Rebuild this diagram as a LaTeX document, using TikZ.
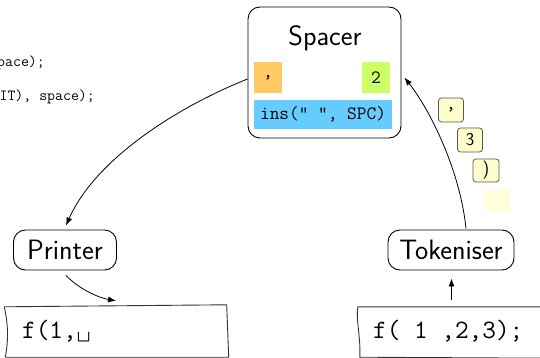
\documentclass[tikz,border=0pt]{standalone}
\usetikzlibrary{arrows.meta}
\definecolor{chorange}{HTML}{FFC966}
\definecolor{chgreen}{HTML}{CCFF66}
\definecolor{chblue}{HTML}{66CCFF}
\definecolor{tokfill}{HTML}{FFFFCC}
\definecolor{tokfaint}{HTML}{FFFFDD}
\definecolor{tokline}{HTML}{555555}
\definecolor{boxline}{HTML}{333333}
\newcommand\bigsans{\sffamily\fontsize{28}{32}\selectfont}
\newcommand\codett{\ttfamily\fontsize{26.5}{30}\selectfont}
\newcommand\midtt{\ttfamily\fontsize{18.8}{22}\selectfont}
\newcommand\smalltt{\ttfamily\fontsize{15.4}{18}\selectfont}
\newcommand\toksans{\sffamily\fontsize{18}{20}\selectfont}
\begin{document}
\begin{tikzpicture}[x=1pt,y=-1pt,
  proc/.style={draw, line width=0.9pt, rounded corners=12pt, inner sep=0pt},
  chip/.style={inner sep=0pt, minimum height=31pt},
  tok/.style={draw=tokline, fill=tokfill, line width=0.8pt, rounded corners=3pt, inner sep=0pt, minimum width=25pt, minimum height=24pt},
  flow/.style={line width=0.8pt, -{Latex[length=8pt,width=6pt]}},
  handbox/.style={draw=boxline, line width=0.9pt, line join=round},
  plain/.style={inner sep=0pt}]
\useasboundingbox (0,0) rectangle (540,358);
\clip (0,0) rectangle (540,358);

% clipped code text at top left
\node[plain, anchor=east] (codeA) at (45,63) {\smalltt space);};
\node[plain, anchor=east] (codeB) at (95,97) {\smalltt IT), space);};

% Spacer
\node[proc, minimum width=153pt, minimum height=131pt] (spacer) at (324.5,72.5) {};
\node[plain] (spacertitle) at (325,38) {\bigsans Spacer};
\node[chip, fill=chorange, minimum width=28pt] (comma) at (268,77.5) {\midtt ,};
\node[chip, fill=chgreen, minimum width=28pt] (two) at (376,77.5) {\midtt 2};
\node[chip, fill=chblue, minimum width=138pt, minimum height=29pt] (ins) at (323,114.5) {\midtt ins(" ", SPC)};

% Printer and Tokeniser
\node[proc, minimum width=103pt, minimum height=40pt] (printer) at (65,250) {\bigsans Printer};
\node[proc, minimum width=126pt, minimum height=40pt] (tokeniser) at (451,250) {\bigsans Tokeniser};

% tokens
\node[tok] (t1) at (451,110) {\midtt ,};
\node[tok] (t2) at (470,140) {\toksans 3};
\node[tok, minimum width=26pt, minimum height=23pt] (t3) at (486,170.5) {\toksans )};
\node[tok, draw=none, fill=tokfaint, minimum width=26pt, minimum height=23pt] (t4) at (497,200.5) {};

% output and input boxes
\node[plain, minimum width=221pt, minimum height=50pt] (out) at (117,331) {};
\node[plain, anchor=west] (outtext) at (22,331) {\codett f(1,\textvisiblespace};
\draw[handbox] ([shift={(-2,1)}]out.north west) -- ([shift={(-1,-1)}]out.north east)
  -- ([shift={(1,1)}]out.south east) -- ([shift={(-1,1)}]out.south west)
  .. controls ([shift={(3,-20)}]out.south west) and ([shift={(1,15)}]out.north west) .. ([shift={(-2,1)}]out.north west) -- cycle;

\node[plain, minimum width=187pt, minimum height=50pt] (inp) at (451.5,331) {};
\node[plain, anchor=west] (inptext) at (373,331) {\codett f( 1 ,2,3);};
\draw[handbox] ([shift={(0,1)}]inp.north east) -- ([shift={(0,1)}]inp.north west)
  .. controls ([shift={(-2,15)}]inp.north west) and ([shift={(3,-20)}]inp.south west) .. ([shift={(2,1)}]inp.south west)
  -- ([shift={(0,2)}]inp.south east);

% connectors
\draw[flow] ([yshift=-6.5pt]spacer.west) .. controls (175,108) and (95,160) .. ([xshift=1pt,yshift=4pt]printer.north);
\draw[flow] ([xshift=1pt,yshift=-5pt]printer.south) .. controls (80,290) and (100,298) .. ([yshift=5pt,xshift=-1pt]out.north);
\draw[flow, shorten <=6pt, shorten >=8pt] (inp.north) -- ([xshift=0.5pt]tokeniser.south);
\draw[flow] ([xshift=15pt,yshift=1pt]tokeniser.north) .. controls (460,170) and (430,110) .. ([xshift=3pt,yshift=-5pt]spacer.east);
\end{tikzpicture}
\end{document}
